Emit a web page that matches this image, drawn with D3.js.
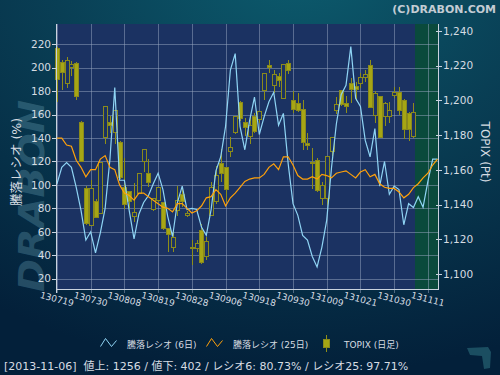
<!DOCTYPE html>
<html>
<head>
<meta charset="utf-8">
<script src="https://cdn.jsdelivr.net/npm/d3@7/dist/d3.min.js"></script>
<style>
body { margin: 0; background: #05243a; }
svg text { font-family: "DejaVu Sans", "Noto Sans CJK JP", sans-serif; }
</style>
</head>
<body>
<div id="chart"></div>
<script>
// x axis: trading day index of each tick and its label
var tickIndex = [0, 7, 14, 21, 28, 35, 42, 49, 56, 63, 70, 77];
var tickLabels = ["130719", "130730", "130808", "130819", "130828", "130906",
                  "130918", "130930", "131009", "131021", "131030", "131111"];

// 騰落レシオ 6日 (%)
var ratio6 = [101, 115, 119, 115, 98, 78, 53, 60, 42, 59,
              80, 122, 183, 104, 104, 78, 54, 75, 85, 91,
              101, 110, 96, 73, 56, 85, 99, 79, 80, 79,
              64, 57, 79, 112, 124, 150, 198, 212, 150, 130,
              155, 175, 143, 158, 171, 179, 151, 161, 118, 84,
              74, 57, 53, 39, 30, 47, 70, 115, 152, 177,
              185, 218, 174, 167, 138, 124, 148, 99, 120, 92,
              99, 96, 66, 84, 80.73, 90, 81, 103, 122, 122];

// 騰落レシオ 25日 (%)
var ratio25 = [140, 140, 134, 133, 121, 115, 107, 113, 113, 122,
               125, 115, 113, 100, 93, 91, 87, 93, 93, 90,
               87, 84, 81, 80, 77, 84, 84, 80, 76, 78,
               82, 89, 90, 96, 92, 82, 89, 93, 98, 103,
               105, 106, 106, 109, 115, 118, 113, 124, 124, 117,
               108, 105, 105, 107, 105, 109, 108, 106, 110, 111,
               112, 109, 106, 111, 113, 107, 109, 101, 98, 97,
               97, 94, 89, 92, 97.71, 101, 106, 110, 117, 122];

// TOPIX daily candles (Pt)
var topixOpen = [1230, 1222, 1210, 1219, 1221.5, 1187, 1149, 1128, 1142, 1135,
                 1178.5, 1187, 1181.5, 1175.5, 1150, 1147.5, 1133, 1146.5, 1165, 1158,
                 1137, 1142.5, 1141, 1126, 1115.5, 1136.5, 1146, 1133.5, 1115.5, 1115,
                 1125, 1110, 1133.5, 1141.5, 1163.5, 1161.5, 1170.5, 1181.5, 1199, 1187.5,
                 1179.5, 1191, 1189, 1205.5, 1220, 1208.5, 1213.5, 1201, 1221, 1200,
                 1198.5, 1194.5, 1175, 1164.5, 1165.5, 1143.5, 1143.5, 1170.5, 1194, 1205.5,
                 1198, 1210, 1208, 1210, 1213, 1220, 1191.5, 1202, 1190.5, 1190.5,
                 1203, 1204.5, 1200, 1192.5, 1179.5];
var topixHigh = [1231, 1223, 1225, 1222.5, 1222, 1188, 1151, 1154, 1143, 1164.5,
                 1197, 1191, 1194, 1176.5, 1167, 1148, 1152.5, 1158, 1172, 1166.5,
                 1144, 1150, 1141.5, 1126, 1126, 1151, 1150, 1136.5, 1119.5, 1119.5,
                 1129, 1121.5, 1153, 1162.5, 1172, 1161.5, 1179, 1191, 1199.5, 1190,
                 1190.5, 1193, 1194, 1215.5, 1223, 1217.5, 1216, 1221, 1223, 1205.5,
                 1204.5, 1200, 1181, 1172.5, 1167, 1153, 1167.5, 1178.5, 1202, 1206,
                 1202.5, 1213, 1210.5, 1216, 1217.5, 1223, 1205.5, 1202.5, 1199, 1199,
                 1207.5, 1208, 1201, 1193.5, 1198.5];
var topixLow = [1199, 1206, 1207, 1214, 1200.5, 1164.5, 1128, 1127.5, 1132, 1134.5,
                1175, 1181.5, 1175, 1155, 1137.5, 1137.5, 1130, 1146, 1158.5, 1150,
                1136.5, 1141.5, 1125.5, 1112.5, 1112.5, 1133.5, 1138.5, 1133, 1105, 1112.5,
                1106, 1108, 1133.5, 1140.5, 1153, 1141.5, 1167.5, 1180.5, 1188, 1179.5,
                1175, 1181.5, 1187, 1200, 1215.5, 1204.5, 1208, 1201, 1215, 1193,
                1193.5, 1171.5, 1171.5, 1149, 1147.5, 1139.5, 1140, 1168, 1192, 1197,
                1193, 1198.5, 1199.5, 1207, 1210.5, 1195.5, 1187, 1178.5, 1185, 1187,
                1201.5, 1191.5, 1178, 1176.5, 1178.5];
var topixClose = [1212, 1216, 1223, 1220.5, 1202.5, 1165, 1129, 1149, 1132.5, 1164,
                  1196.5, 1185.5, 1194, 1155.5, 1140, 1141.5, 1135.5, 1158, 1172, 1153,
                  1143.5, 1150, 1126, 1122.5, 1121, 1142.5, 1141.5, 1135, 1114.5, 1117.5,
                  1106.5, 1119, 1150, 1156.5, 1158, 1148.5, 1173, 1190.5, 1189.5, 1184.5,
                  1185.5, 1182, 1193.5, 1215.5, 1219, 1215, 1211.5, 1220.5, 1217.5, 1194.5,
                  1194, 1175.5, 1174.5, 1164, 1148, 1151, 1167.5, 1178.5, 1197.5, 1197.5,
                  1196.5, 1206.5, 1206, 1213, 1215, 1196, 1204, 1178.5, 1198.5, 1194,
                  1204.5, 1194, 1183.5, 1183, 1193];

var leftTicks = [20, 40, 60, 80, 100, 120, 140, 160, 180, 200, 220];
var rightTicks = [1100, 1120, 1140, 1160, 1180, 1200, 1220, 1240];

// days after the last candle are shaded green
var futureFrom = 74.3;

var legendNames = ["騰落レシオ (6日)", "騰落レシオ (25日)", "TOPIX (日足)"];
var statusText = "[2013-11-06]  値上: 1256 / 値下: 402 / レシオ6: 80.73% / レシオ25: 97.71%";

/**
 * Constructor for the ratio / TOPIX chart
 */
function RatioChart(){
    var self = this;
    self.init();
};

/**
 * Builds the svg, background and scales
 */
RatioChart.prototype.init = function(){
    var self = this;
    self.margin = {top: 24, right: 62, bottom: 86, left: 56};
    self.svgWidth = 500;
    self.svgHeight = 375;
    self.plotRight = self.svgWidth - self.margin.right;
    self.plotBottom = self.svgHeight - self.margin.bottom;

    self.svg = d3.select("#chart").append("svg")
        .attr("width", self.svgWidth)
        .attr("height", self.svgHeight);

    var defs = self.svg.append("defs");
    var grad = defs.append("radialGradient").attr("id", "bg")
        .attr("cx", "60%").attr("cy", "-10%").attr("r", "110%");
    grad.append("stop").attr("offset", "0%").attr("stop-color", "#0c5c6e");
    grad.append("stop").attr("offset", "45%").attr("stop-color", "#093f55");
    grad.append("stop").attr("offset", "100%").attr("stop-color", "#03203a");

    self.svg.append("rect").attr("width", self.svgWidth).attr("height", self.svgHeight)
        .attr("fill", "url(#bg)");

    self.x = d3.scaleLinear().domain([-0.2, 79.1]).range([self.margin.left, self.plotRight]);
    self.yLeft = d3.scaleLinear().domain([11.2, 237.3]).range([self.plotBottom, self.margin.top]);
    self.yRight = d3.scaleLinear().domain([1091.4, 1244]).range([self.plotBottom, self.margin.top]);
};

/**
 * Draws everything
 */
RatioChart.prototype.update = function(){
    var self = this;
    var x = self.x, yL = self.yLeft, yR = self.yRight;
    var left = self.margin.left, right = self.plotRight, top = self.margin.top, bottom = self.plotBottom;
    var textColor = "#d6dce2";

    //watermark logo on the left
    self.svg.append("text").text("DRABON")
        .attr("transform", "translate(44,292) rotate(-90)")
        .attr("textLength", 192).attr("lengthAdjust", "spacingAndGlyphs")
        .attr("font-size", 36).attr("font-weight", "bold").attr("font-style", "italic")
        .attr("fill", "#6aa2b6").attr("opacity", 0.32);

    //plot background + green zone
    self.svg.append("rect").attr("x", left).attr("y", top)
        .attr("width", right - left).attr("height", bottom - top).attr("fill", "#1b3262");
    self.svg.append("rect").attr("x", Math.round(x(futureFrom))).attr("y", top)
        .attr("width", right - Math.round(x(futureFrom))).attr("height", bottom - top)
        .attr("fill", "#0a4a3c");

    //grid
    var grid = self.svg.append("g").attr("stroke", "#98a6c0").attr("stroke-opacity", 0.5)
        .attr("shape-rendering", "crispEdges");
    grid.selectAll(".h").data(leftTicks).enter().append("line")
        .attr("x1", left).attr("x2", right)
        .attr("y1", function(d){ return Math.round(yL(d)) + 0.5; })
        .attr("y2", function(d){ return Math.round(yL(d)) + 0.5; });
    grid.selectAll(".v").data(tickIndex).enter().append("line")
        .attr("y1", top).attr("y2", bottom + 4)
        .attr("x1", function(d){ return Math.round(x(d)) + 0.5; })
        .attr("x2", function(d){ return Math.round(x(d)) + 0.5; });

    //candles
    var olive = "#a6a614";
    var candles = self.svg.append("g").attr("shape-rendering", "crispEdges");
    var idx = d3.range(topixOpen.length);
    candles.selectAll(".wick").data(idx).enter().append("line")
        .attr("x1", function(i){ return Math.round(x(i)) + 0.5; })
        .attr("x2", function(i){ return Math.round(x(i)) + 0.5; })
        .attr("y1", function(i){ return yR(topixHigh[i]); })
        .attr("y2", function(i){ return yR(topixLow[i]); })
        .attr("stroke", "#8f8f18");
    candles.selectAll(".body").data(idx).enter().append("rect")
        .attr("x", function(i){ return Math.round(x(i)) - 1.5; })
        .attr("width", 4)
        .attr("y", function(i){ return yR(Math.max(topixOpen[i], topixClose[i])); })
        .attr("height", function(i){
            return Math.max(1.5, Math.abs(yR(topixOpen[i]) - yR(topixClose[i])));
        })
        .attr("fill", function(i){ return topixClose[i] >= topixOpen[i] ? "#1b3262" : olive; })
        .attr("stroke", "#8a8a1c").attr("stroke-width", 1);

    //ratio lines
    var line = d3.line().x(function(d, i){ return x(i); }).y(function(d){ return yL(d); });
    self.svg.append("path").datum(ratio6).attr("d", line)
        .attr("fill", "none").attr("stroke", "#8fd4f4").attr("stroke-width", 1.2);
    self.svg.append("path").datum(ratio25).attr("d", line)
        .attr("fill", "none").attr("stroke", "#ffa10a").attr("stroke-width", 1.2);

    //axis lines
    var axes = self.svg.append("g").attr("stroke", "#c9d2de").attr("shape-rendering", "crispEdges");
    axes.append("line").attr("x1", left + 0.5).attr("x2", left + 0.5).attr("y1", top).attr("y2", bottom + 4);
    axes.append("line").attr("x1", right + 0.5).attr("x2", right + 0.5).attr("y1", top).attr("y2", bottom + 1);
    axes.append("line").attr("x1", left).attr("x2", right + 1).attr("y1", bottom + 0.5).attr("y2", bottom + 0.5);
    axes.selectAll(".lt").data(leftTicks).enter().append("line")
        .attr("x1", left - 4).attr("x2", left)
        .attr("y1", function(d){ return Math.round(yL(d)) + 0.5; })
        .attr("y2", function(d){ return Math.round(yL(d)) + 0.5; });
    axes.selectAll(".rt").data(rightTicks).enter().append("line")
        .attr("x1", right - 2).attr("x2", right + 4)
        .attr("y1", function(d){ return Math.round(yR(d)) + 0.5; })
        .attr("y2", function(d){ return Math.round(yR(d)) + 0.5; });

    //tick labels
    self.svg.selectAll(".ll").data(leftTicks).enter().append("text")
        .text(function(d){ return d; })
        .attr("x", left - 5).attr("y", function(d){ return yL(d); })
        .attr("dy", "0.36em").attr("text-anchor", "end")
        .attr("font-size", 10.5).attr("fill", textColor);
    self.svg.selectAll(".rl").data(rightTicks).enter().append("text")
        .text(function(d){ return d3.format(",")(d); })
        .attr("x", right + 5).attr("y", function(d){ return yR(d); })
        .attr("dy", "0.36em")
        .attr("font-size", 10.5).attr("fill", textColor);
    self.svg.selectAll(".xl").data(tickIndex).enter().append("text")
        .text(function(d, i){ return tickLabels[i]; })
        .attr("transform", function(d){ return "translate(" + x(d) + "," + (bottom + 10) + ") rotate(15)"; })
        .attr("dy", "0.36em").attr("text-anchor", "middle")
        .attr("font-size", 9).attr("fill", textColor);

    //axis titles
    self.svg.append("text").text("騰落レシオ (%)")
        .attr("transform", "translate(21,162) rotate(-90)")
        .attr("text-anchor", "middle").attr("font-size", 12.5).attr("fill", textColor);
    self.svg.append("text").text("TOPIX (Pt)")
        .attr("transform", "translate(481,152) rotate(90)")
        .attr("text-anchor", "middle").attr("font-size", 12).attr("fill", textColor);

    //copyright
    self.svg.append("text").text("(C)DRABON.COM")
        .attr("x", 496).attr("y", 13).attr("text-anchor", "end")
        .attr("font-size", 11).attr("font-weight", "bold").attr("fill", "#c3ccd4");

    //legend
    var lg = self.svg.append("g");
    var zig = [[0, 8], [5, 0], [11, 8], [16, 2]];
    var iconLine = d3.line();
    lg.append("path").attr("d", iconLine(zig)).attr("transform", "translate(100.5,338.5)")
        .attr("fill", "none").attr("stroke", "#8fd4f4");
    lg.append("path").attr("d", iconLine(zig)).attr("transform", "translate(206.5,338.5)")
        .attr("fill", "none").attr("stroke", "#ffa10a");
    lg.append("line").attr("x1", 326.5).attr("x2", 326.5).attr("y1", 335).attr("y2", 352)
        .attr("stroke", "#8f8f18");
    lg.append("rect").attr("x", 323.5).attr("y", 339.5).attr("width", 6).attr("height", 8)
        .attr("fill", olive).attr("stroke", "#8a8a1c");
    var legendX = [127, 233, 344];
    lg.selectAll("text").data(legendNames).enter().append("text")
        .text(function(d){ return d; })
        .attr("x", function(d, i){ return legendX[i]; }).attr("y", 348)
        .attr("font-size", 9).attr("fill", textColor);

    //status line
    self.svg.append("text").text(statusText).attr("xml:space", "preserve")
        .attr("x", 4).attr("y", 370).attr("font-size", 11).attr("fill", textColor);

    //small logo bottom right
    self.svg.append("path")
        .attr("d", "M467,348 L488,347 L491,352 L490,368 L484,369 L482,356 L470,355 Z")
        .attr("fill", "#1e5366").attr("opacity", 0.9);
};

var chart = new RatioChart();
chart.update();
</script>
</body>
</html>
